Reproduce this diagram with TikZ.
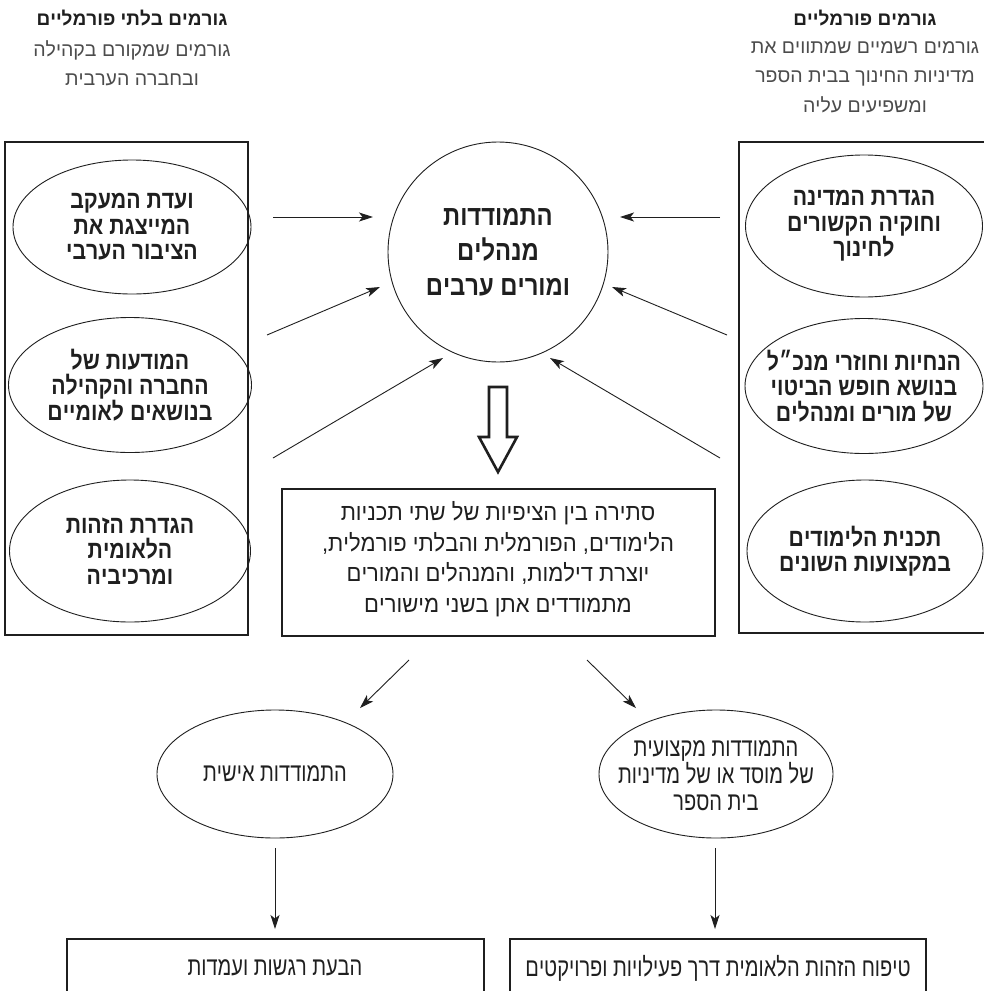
\documentclass[tikz,border=0pt]{standalone}
\usepackage{fontspec}
\setmainfont{Liberation Sans}
\newfontfamily\ellfont[FakeStretch=0.85]{Liberation Sans}
\newfontfamily\circfont[FakeStretch=0.85]{Liberation Sans}
\newfontfamily\narrowfont[FakeStretch=0.77]{Liberation Sans}
\newfontfamily\boxfont[FakeStretch=0.94]{Liberation Sans}
\TeXXeTstate=1
\usetikzlibrary{arrows.meta,shapes.geometric}
\newcommand\heb[1]{\beginR #1\endR}
\definecolor{ink}{gray}{0.12}
\definecolor{hdrgray}{gray}{0.3}
\tikzset{
  panel/.style={draw=ink, line width=1.2pt, inner sep=0pt},
  ell/.style={draw=ink, ellipse, line width=0.9pt, inner sep=0pt},
  elltext/.style={align=center, text=ink, inner sep=0pt, font=\fontsize{25}{25.5}\ellfont\bfseries},
  hdrtitle/.style={align=center, text=ink, inner sep=0pt, font=\fontsize{19}{29}\selectfont\bfseries},
  hdrbody/.style={align=center, text=hdrgray, inner sep=0pt, font=\fontsize{19.5}{29.5}\selectfont},
  arr/.style={draw=ink, line width=0.9pt, -{Stealth[length=14pt,width=9pt,inset=3.5pt]}},
  box/.style={draw=ink, line width=1.1pt, inner sep=0pt},
  bottext/.style={align=center, text=ink, inner sep=0pt, font=\fontsize{26}{27}\narrowfont},
}
\begin{document}
\begin{tikzpicture}[x=1pt,y=-1pt]
\clip (0,0) rectangle (984,991);
\fill[white] (0,0) rectangle (984,991);

% headers
\node[hdrtitle] (hLt) at (132,18) {\heb{גורמים בלתי פורמליים}};
\node[hdrbody] (hLb) at (132,63) {\heb{גורמים שמקורם בקהילה}\\\heb{ובחברה הערבית}};
\node[hdrtitle] (hRt) at (865,18) {\heb{גורמים פורמליים}};
\node[hdrbody] (hRb) at (865,77) {\heb{גורמים רשמיים שמתווים את}\\\heb{מדיניות החינוך בבית הספר}\\\heb{ומשפיעים עליה}};

% panels
\node[panel, minimum width=243, minimum height=493] (lpanel) at (126.5,388.5) {};
\node[panel, minimum width=256, minimum height=491] (rpanel) at (867,387.5) {};

% left ellipses
\node[ell, minimum width=238, minimum height=134] (l1) at (132,227) {};
\node[elltext] (l1t) at (l1) {\heb{ועדת המעקב}\\\heb{המייצגת את}\\\heb{הציבור הערבי}};
\node[ell, minimum width=243, minimum height=135] (l2) at (130,385) {};
\node[elltext] (l2t) at (l2) {\heb{המודעות של}\\\heb{החברה והקהילה}\\\heb{בנושאים לאומיים}};
\node[ell, minimum width=241, minimum height=142] (l3) at (130,551) {};
\node[elltext] (l3t) at (l3) {\heb{הגדרת הזהות}\\\heb{הלאומית}\\\heb{ומרכיביה}};

% right ellipses
\node[ell, minimum width=237, minimum height=142] (r1) at (864,226) {};
\node[elltext] (r1t) at (r1) {\heb{הגדרת המדינה}\\\heb{וחוקיה הקשורים}\\\heb{לחינוך}};
\node[ell, minimum width=238, minimum height=135] (r2) at (864,386) {};
\node[elltext] (r2t) at (r2) {\heb{הנחיות וחוזרי מנכ״ל}\\\heb{בנושא חופש הביטוי}\\\heb{של מורים ומנהלים}};
\node[ell, minimum width=236, minimum height=142] (r3) at (865,551) {};
\node[elltext] (r3t) at (r3) {\heb{תכנית הלימודים}\\\heb{במקצועות השונים}};

% centre circle
\node[ell, circle, minimum size=220] (c) at (498,252) {};
\node[elltext, font=\fontsize{28}{35}\circfont\bfseries] (ct) at (c) {\heb{התמודדות}\\\heb{מנהלים}\\\heb{ומורים ערבים}};

% arrows into circle
\coordinate (s1) at (273,217); \coordinate (e1) at (373,217);
\coordinate (s2) at (720,217); \coordinate (e2) at (620,217);
\coordinate (s3) at (267,335); \coordinate (e3) at (380,287);
\coordinate (s4) at (727,335); \coordinate (e4) at (612,287);
\coordinate (s5) at (273,458); \coordinate (e5) at (443,358);
\coordinate (s6) at (720,458); \coordinate (e6) at (550,358);
\draw[arr] (s1) -- (e1);
\draw[arr] (s2) -- (e2);
\draw[arr] (s3) -- (e3);
\draw[arr] (s4) -- (e4);
\draw[arr] (s5) -- (e5);
\draw[arr] (s6) -- (e6);

% hollow down arrow
\draw[ink, line width=2.6pt, line join=miter] (489,387) -- (507,387) -- (507,437) -- (517,437) -- (498,472) -- (479,437) -- (489,437) -- cycle;

% contradiction box
\node[box, minimum width=433, minimum height=147] (m) at (498.5,562.5) {};
\node[align=center, text=ink, inner sep=0pt, font=\fontsize{23.4}{30.5}\boxfont] (mt) at (498,559)
 {\heb{סתירה בין הציפיות של שתי תכניות}\\\heb{הלימודים, הפורמלית והבלתי פורמלית,}\\\heb{יוצרת דילמות, והמנהלים והמורים}\\\heb{מתמודדים אתן בשני מישורים}};

% lower part
\node[ell, minimum width=236, minimum height=128] (p) at (275,774) {};
\node[bottext] (pt) at (p) {\heb{התמודדות אישית}};
\node[ell, minimum width=234, minimum height=128] (q) at (716,774) {};
\node[bottext] (qt) at (716,776) {\heb{התמודדות מקצועית}\\\heb{של מוסד או של מדיניות}\\\heb{בית הספר}};

\coordinate (b1s) at (409,660); \coordinate (b1e) at (360,708);
\coordinate (b2s) at (587,660); \coordinate (b2e) at (636,708);
\draw[arr] (b1s) -- (b1e);
\draw[arr] (b2s) -- (b2e);

\node[box, minimum width=417, minimum height=80] (u) at (275.5,979) {};
\node[bottext] (ut) at (275,968) {\heb{הבעת רגשות ועמדות}};
\node[box, minimum width=416, minimum height=80] (v) at (718,979) {};
\node[bottext] (vt) at (718,968) {\heb{טיפוח הזהות הלאומית דרך פעילויות ופרויקטים}};

\coordinate (d1s) at (275,848); \coordinate (d1e) at (275,929);
\coordinate (d2s) at (715,848); \coordinate (d2e) at (715,929);
\draw[arr] (d1s) -- (d1e);
\draw[arr] (d2s) -- (d2e);
\end{tikzpicture}
\end{document}
